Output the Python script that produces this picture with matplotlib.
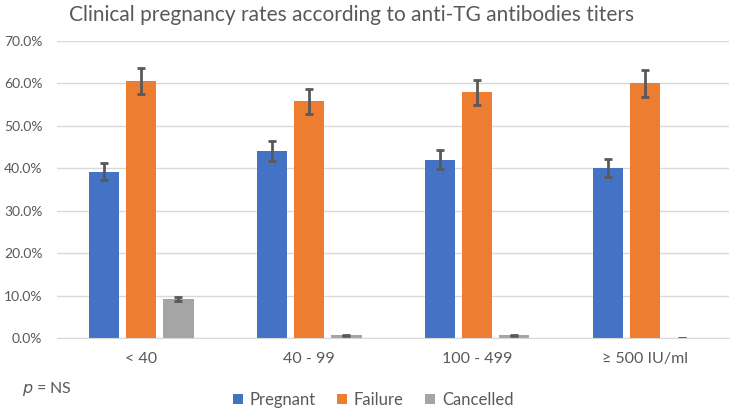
import matplotlib
matplotlib.use('Agg')
import matplotlib.pyplot as plt
import numpy as np
from matplotlib.ticker import PercentFormatter

categories = ['< 40', '40 - 99', '100 - 499', '\u2265 500 IU/ml']
pregnant = [39.2, 44.1, 42.0, 40.0]
failure = [60.6, 55.8, 57.9, 60.0]
cancelled = [9.2, 0.6, 0.6, 0.0]
pregnant_err = [2.0, 2.3, 2.2, 2.1]
failure_err = [3.1, 2.9, 2.9, 3.1]
cancelled_err = [0.5, 0.2, 0.2, 0.1]

plt.rcParams['font.family'] = ['Lato', 'DejaVu Sans']
text_col = '#595959'

fig = plt.figure(figsize=(7.31, 4.09), dpi=100)
ax = fig.add_axes([57 / 731, 71 / 409, 672 / 731, 297 / 409])

x = np.arange(len(categories))
w = 0.179
step = 0.223
series = [
    ('Pregnant', pregnant, pregnant_err, '#4472C4'),
    ('Failure', failure, failure_err, '#ED7D31'),
    ('Cancelled', cancelled, cancelled_err, '#A5A5A5'),
]
for i, (name, vals, errs, col) in enumerate(series):
    ax.bar(x + (i - 1) * step, vals, w, color=col, label=name, zorder=2,
           yerr=errs, error_kw=dict(ecolor='#595959', elinewidth=2, capsize=3, capthick=2))

ax.set_xlim(-0.5, len(categories) - 0.5)
ax.set_ylim(0, 70)
ax.set_yticks(np.arange(0, 71, 10))
ax.yaxis.set_major_formatter(PercentFormatter(decimals=1))
ax.grid(axis='y', color='#d9d9d9', linewidth=1, zorder=0)
for s in ['top', 'right', 'left']:
    ax.spines[s].set_visible(False)
ax.spines['bottom'].set_color('#d9d9d9')
ax.tick_params(axis='both', length=0, colors=text_col)
ax.tick_params(axis='y', pad=10.5, labelsize=10)
ax.tick_params(axis='x', pad=10, labelsize=11.5)
ax.set_xticks(x)
ax.set_xticklabels(categories)

fig.text(352 / 731, 1 - 15 / 409, 'Clinical pregnancy rates according to anti-TG antibodies titers',
         ha='center', va='center', fontsize=15, color=text_col)
fig.text(22 / 731, 1 - 389 / 409, r'$p$ = NS', ha='left', va='center', fontsize=11.5, color=text_col)

fig.legend(loc='center', bbox_to_anchor=(373 / 731, 1 - 400 / 409), ncol=3, frameon=False,
           fontsize=12, handlelength=0.6, handleheight=0.6, handletextpad=0.4, columnspacing=1.3,
           labelcolor=text_col)

fig.savefig('out.png', dpi=100)
